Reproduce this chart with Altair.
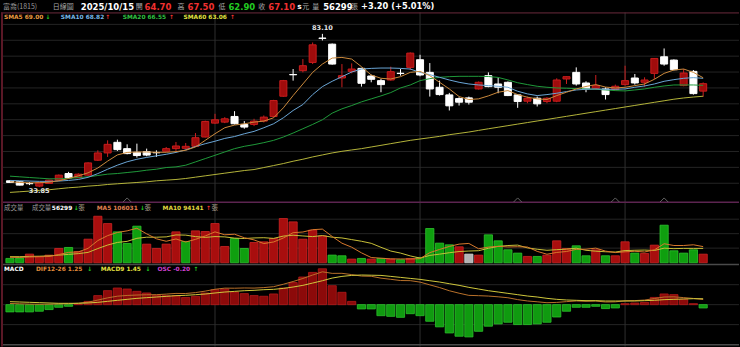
import altair as alt
import pandas as pd
import numpy as np

# ---------------- data ----------------
opens = [35.88,35.56,35.00,34.17,35.02,36.09,38.22,36.84,37.69,42.49,
 44.83,48.24,46.22,45.04,45.26,44.94,45.36,46.22,46.32,46.96,
 49.95,54.42,54.74,56.56,54.00,54.00,55.07,56.56,63.06,70.05,
 71.27,73.93,81.75,79.80,68.92,71.05,72.01,69.56,68.07,68.28,
 70.45,72.33,74.79,70.73,65.94,63.49,62.31,62.53,65.40,69.67,
 67.00,67.54,63.49,61.46,62.42,61.35,61.46,68.60,70.73,67.32,
 65.62,65.40,65.19,66.79,68.92,67.54,70.41,75.74,74.68,66.47,
 71.05,64.70]
highs = [36.00,35.70,35.50,35.40,36.20,37.90,38.75,38.30,41.80,45.68,
 48.88,49.10,47.60,47.82,46.22,45.68,46.75,48.35,48.03,51.23,
 55.20,57.41,56.34,58.26,55.07,55.81,56.88,61.90,68.30,71.80,
 75.00,80.33,83.10,80.00,73.40,73.61,72.20,69.99,68.60,72.55,
 71.80,77.13,76.38,73.72,68.07,64.13,62.74,62.95,67.80,70.73,
 69.14,67.80,63.60,62.95,62.95,62.74,68.82,69.40,72.33,67.86,
 69.88,65.94,66.79,72.87,70.20,69.14,75.30,78.41,74.90,71.80,
 71.48,67.50]
lows = [35.25,34.40,34.50,33.85,34.90,36.00,36.70,36.70,37.50,42.27,
 43.55,45.47,44.40,43.34,43.77,43.55,45.15,45.47,45.90,46.75,
 49.80,54.21,54.42,54.00,52.61,53.47,54.64,56.30,62.90,68.07,
 70.73,73.40,81.00,73.20,65.94,70.41,66.15,67.54,64.34,68.07,
 69.67,71.48,69.46,62.95,63.27,58.48,60.07,60.39,65.20,65.94,
 64.02,63.10,59.33,60.82,59.76,60.82,61.14,67.00,66.47,64.34,
 65.08,62.00,64.87,66.47,66.79,66.15,68.60,72.87,71.40,66.26,
 63.59,62.90]
closes = [35.34,34.49,34.95,35.34,36.09,37.69,36.84,38.01,41.63,44.83,
 47.60,45.90,44.62,44.00,44.15,44.90,46.22,47.07,46.96,49.73,
 54.96,55.49,55.81,54.21,53.15,55.07,56.34,61.67,68.07,69.95,
 72.87,79.58,81.65,73.40,69.67,71.80,67.22,68.50,66.79,70.95,
 70.35,76.92,69.88,65.40,63.59,59.97,61.14,61.14,67.54,66.15,
 65.94,63.27,61.35,62.42,60.61,62.42,68.28,69.35,67.00,65.40,
 66.47,63.59,66.26,68.07,67.32,68.28,75.21,73.40,71.59,70.52,
 63.90,67.10]

sma5 = [35.56,35.34,35.24,35.24,35.45,35.88,36.62,37.48,38.44,40.00,
 42.20,44.20,45.00,45.15,45.15,45.04,45.04,45.26,45.68,46.75,
 48.88,51.01,52.93,53.79,54.21,54.74,55.07,56.13,59.33,63.27,
 67.00,70.73,73.40,75.32,75.53,75.00,72.55,69.88,68.82,68.60,
 69.35,70.73,71.05,69.67,67.54,65.40,62.95,62.00,62.21,63.17,
 64.34,64.87,63.59,62.74,62.21,62.00,63.27,64.34,65.40,66.20,
 66.80,66.00,65.72,65.94,66.47,67.00,68.50,70.41,71.48,71.80,
 70.73,69.00]
sma10 = [36.00,35.90,35.80,35.70,35.70,35.80,36.00,36.30,37.00,38.20,
 39.60,40.90,42.00,42.80,43.40,43.90,44.40,45.00,45.80,46.90,
 47.80,48.60,49.50,50.10,51.00,51.76,52.93,54.21,56.13,58.48,
 60.39,63.59,66.15,67.86,69.35,70.84,71.80,72.01,72.12,72.12,
 72.01,71.80,70.73,69.99,69.14,68.28,67.54,67.00,66.68,66.47,
 66.26,65.94,64.66,63.81,63.27,63.59,64.02,64.55,65.08,65.30,
 65.40,65.30,65.30,65.40,65.94,66.36,67.00,67.86,68.39,68.82,
 69.03,68.82]
sma20 = [37.37,37.16,36.94,36.73,36.52,36.52,36.62,36.94,37.16,37.58,
 38.01,38.22,38.54,38.86,39.29,39.61,40.14,40.35,40.89,41.95,
 43.02,44.08,45.15,46.22,46.96,47.50,48.14,48.88,49.95,51.23,
 52.61,54.00,55.49,57.62,59.01,60.07,61.25,62.21,63.17,64.23,
 65.72,66.68,68.07,68.71,69.14,69.35,69.46,69.46,69.46,69.40,
 69.10,68.30,67.40,66.80,66.26,65.94,65.72,65.62,65.51,65.40,
 65.30,65.08,64.87,64.77,65.08,65.40,65.94,66.36,66.68,66.68,
 66.68,66.55]
sma60 = [32.15,32.36,32.57,32.79,33.00,33.32,33.64,33.85,34.17,34.38,
 34.70,34.92,35.13,35.34,35.56,35.88,36.09,36.30,36.62,37.05,
 37.48,37.90,38.33,38.75,39.18,39.50,40.14,40.78,41.42,42.17,
 42.81,43.55,44.19,44.83,45.36,45.79,46.22,46.75,47.28,47.82,
 48.35,48.88,49.31,49.73,50.16,50.69,51.12,51.55,52.08,52.60,
 53.10,53.60,54.10,54.60,55.10,55.60,56.10,56.60,57.10,57.60,
 58.10,58.60,59.10,59.60,60.10,60.60,61.10,61.60,62.10,62.50,
 62.80,63.06]

volumes = [28400,30900,56800,39200,50100,93800,100400,74200,154900,305300,
 257200,202800,126600,240100,122200,93800,122400,202900,139700,209300,
 205100,257500,106900,159300,93700,133100,137400,159200,290300,268400,
 155000,213800,176700,50200,45800,24000,28400,24100,28300,24000,
 19600,28200,34900,224700,128700,117800,104800,56700,50200,183300,
 144000,85100,63300,41500,41400,50200,144000,93800,111300,45800,
 85100,45900,45800,137500,63300,61100,115600,246600,78600,63300,
 85100,56299]
# r = up day, g = down day, s = unchanged
vol_dir = ("ggrrrrgrrr" "rgggrrrrgr" "rrrggrrrrr" "rrrggrgrgr" "grggggrsrg"
           "gggrgrrrgg" "rgrrgrrggg" "gr")
vol_ma5 = [36000,35000,38000,40000,41000,54200,68000,71400,94600,145600,
 178200,198800,209400,226400,189800,157200,141000,156200,136200,153600,
 175800,202800,183600,187400,164400,150000,126000,136400,162600,197400,
 201800,217200,220800,172800,128400,102200,65000,34400,30000,25600,
 24800,24800,27000,66400,87400,107000,122400,126800,91800,102600,
 107800,103800,105000,103200,74800,56000,67800,74000,88000,89000,
 96000,76400,66800,72000,75400,70600,84600,124800,113200,113200,
 118000,106031]
vol_ma10 = [40000,40000,42000,43000,45000,50000,55000,60000,68000,93300,
 116200,133400,140400,160500,167700,167700,169900,182800,181300,171700,
 166500,171900,169900,161800,159000,162900,164400,160000,175000,180900,
 175900,171600,178600,167700,162900,152000,141100,127600,101400,77000,
 63500,44900,30700,48200,56500,65900,73600,76900,79100,95000,
 107400,113100,115900,97500,88700,81900,85800,89500,95600,81900,
 76000,72100,70400,80000,82200,83300,80500,95800,92600,94300,
 94300,94141]

dif = [0.29,0.21,0.13,0.09,0.11,0.17,0.23,0.35,0.61,1.12,
 1.66,2.07,2.25,2.35,2.42,2.44,2.58,2.75,2.72,2.95,
 3.31,3.76,4.04,4.02,4.08,4.05,4.17,4.39,4.99,5.66,
 6.40,7.24,8.03,7.65,7.66,7.35,6.99,6.94,6.48,6.20,
 5.90,5.87,5.51,4.84,4.18,3.40,2.80,2.27,2.20,2.10,
 1.92,1.69,1.23,0.90,0.70,0.47,0.55,0.74,0.90,0.82,
 0.88,0.65,0.69,0.95,0.99,1.12,1.50,1.87,1.91,1.72,
 1.52,1.25]
macd9 = [0.73,0.65,0.57,0.49,0.41,0.33,0.33,0.33,0.41,0.57,
 0.81,1.06,1.30,1.54,1.71,1.87,2.03,2.20,2.28,2.44,
 2.60,2.85,3.09,3.25,3.41,3.50,3.66,3.74,3.98,4.31,
 4.72,5.28,5.85,6.50,6.91,7.15,7.25,7.20,7.15,6.91,
 6.67,6.42,6.18,5.85,5.53,5.12,4.72,4.23,3.82,3.41,
 3.09,2.76,2.44,2.11,1.87,1.54,1.30,1.14,1.06,0.98,
 0.98,0.89,0.89,0.89,0.89,0.98,1.06,1.22,1.30,1.38,
 1.46,1.45]
osc = [-0.44,-0.44,-0.44,-0.40,-0.30,-0.16,-0.10,0.02,0.20,0.55,
 0.85,1.01,0.95,0.81,0.71,0.57,0.55,0.55,0.44,0.51,
 0.71,0.91,0.95,0.77,0.67,0.55,0.51,0.65,1.01,1.35,
 1.68,1.96,2.18,1.15,0.75,0.20,-0.26,-0.26,-0.67,-0.71,
 -0.77,-0.55,-0.67,-1.01,-1.35,-1.72,-1.92,-1.96,-1.62,-1.31,
 -1.17,-1.07,-1.21,-1.21,-1.17,-1.07,-0.75,-0.40,-0.16,-0.16,
 -0.10,-0.24,-0.20,0.06,0.10,0.14,0.44,0.65,0.61,0.34,
 0.06,-0.20]
event_idx = [12, 52, 62, 67]
month_starts = [21, 42, 63]

n = len(closes)
for arr in (opens, highs, lows, sma5, sma10, sma20, sma60, volumes, vol_dir,
            vol_ma5, vol_ma10, dif, macd9, osc):
    assert len(arr) == n, len(arr)

# ---------------- styling ----------------
LAT = "DejaVu Sans"
CJK = "Noto Sans CJK TC"
BG = "#000000"
GRID = "#242424"
VGRID = "#2e2e2e"
RED_TXT = "#f03030"
GRN_TXT = "#22cc22"
GREY_TXT = "#a8a8a8"
W = 740
H_HEAD, H_PRICE, H_VOL, H_MACD = 12, 191, 61, 83
SMALL = 5.9

df = pd.DataFrame({
    "i": np.arange(n), "open": opens, "high": highs, "low": lows, "close": closes,
    "vol": volumes, "dir": list(vol_dir), "osc": osc,
})
up = df["close"] > df["open"]
df["cfill"] = np.where(up, "#a00c0c", "#ffffff")
df["cstroke"] = np.where(up, "#c81d1d", "#ffffff")
df["wick"] = np.where(up, "#cc2020", "#ffffff")
df["vfill"] = df["dir"].map({"r": "#a80e0e", "g": "#0f9f0f", "s": "#b4b4b4"})
df["vstroke"] = df["dir"].map({"r": "#cc2424", "g": "#2ec42e", "s": "#d4d4d4"})
df["hfill"] = np.where(df["osc"] > 0, "#8c0a0a", "#109a10")
df["hstroke"] = np.where(df["osc"] > 0, "#b41a1a", "#2cc02c")

xs = alt.Scale(domain=[-0.92, 74.67], nice=False, zero=False)
DUMMY = pd.DataFrame({"d": [0]})


def label(text, x, y, color, size=SMALL, bold=True, font=LAT):
    return alt.Chart(DUMMY).mark_text(
        text=text, align="left", baseline="middle", color=color, fontSize=size,
        fontWeight="bold" if bold else "normal", font=font,
    ).encode(x=alt.value(x), y=alt.value(y))


def hrule(y, color, w=1.0):
    return alt.Chart(DUMMY).mark_rule(color=color, strokeWidth=w).encode(
        x=alt.value(0), x2=alt.value(W), y=alt.value(y))


def left_border(h):
    return alt.Chart(DUMMY).mark_rule(color="#5a1826", strokeWidth=2).encode(
        x=alt.value(1), y=alt.value(0), y2=alt.value(h))


def vgrid(h, top=0):
    return alt.Chart(pd.DataFrame({"m": month_starts})).mark_rule(
        color=VGRID, strokeWidth=1).encode(
        x=alt.X("m:Q", scale=xs, axis=None), y=alt.value(top), y2=alt.value(h))


def hgrid(values, scale):
    return alt.Chart(pd.DataFrame({"g": values})).mark_rule(
        color=GRID, strokeWidth=1).encode(
        y=alt.Y("g:Q", scale=scale, axis=None), x=alt.value(0), x2=alt.value(W))


# ---------------- header ----------------
hy = 6.5
header = alt.layer(
    label("富喬(1815)", 2, hy, "#9a9a9a", 7, False, CJK),
    label("日線圖", 52, hy, GREY_TXT, 7, False, CJK),
    label("2025/10/15", 80, hy, "#ffffff", 8.5),
    label("開", 135, hy, GREY_TXT, 7, False, CJK),
    label("64.70", 144, hy, RED_TXT, 8.5),
    label("高", 177, hy, GREY_TXT, 7, False, CJK),
    label("67.50", 187, hy, RED_TXT, 8.5),
    label("低", 218, hy, GREY_TXT, 7, False, CJK),
    label("62.90", 228, hy, GRN_TXT, 8.5),
    label("收", 258, hy, GREY_TXT, 7, False, CJK),
    label("67.10", 268, hy, RED_TXT, 8.5),
    label("s", 297, hy, "#ffffff", 7.5),
    label("元", 302, hy, GREY_TXT, 7, False, CJK),
    label("量", 312, hy, GREY_TXT, 7, False, CJK),
    label("56299", 323, hy, "#ffffff", 8.5),
    label("張", 351, hy, GREY_TXT, 7, False, CJK),
    label("+3.20 (+5.01%)", 361, hy, "#ffffff", 8.3),
).properties(width=W, height=H_HEAD)

# ---------------- price panel ----------------
ys_price = alt.Scale(domain=[28.77, 89.99], nice=False, zero=False)
grid_top = 86.15
price_grid = [round(grid_top - 5.106 * k, 3) for k in range(11)]

wicks = alt.Chart(df).mark_rule(strokeWidth=1).encode(
    x=alt.X("i:Q", scale=xs, axis=None),
    y=alt.Y("low:Q", scale=ys_price, axis=None),
    y2="high:Q",
    stroke=alt.Stroke("wick:N", scale=None),
)
bodies = alt.Chart(df).transform_calculate(
    x0="datum.i - 0.36", x1="datum.i + 0.36"
).mark_rect(strokeWidth=1).encode(
    x=alt.X("x0:Q", scale=xs, axis=None), x2="x1:Q",
    y=alt.Y("open:Q", scale=ys_price, axis=None), y2="close:Q",
    fill=alt.Fill("cfill:N", scale=None),
    stroke=alt.Stroke("cstroke:N", scale=None),
)

ma_df = pd.DataFrame({"i": np.arange(n), "sma5": sma5, "sma10": sma10,
                      "sma20": sma20, "sma60": sma60})
ma_layers = []
for col, colr in [("sma60", "#b4b43a"), ("sma20", "#1f9a3a"),
                  ("sma10", "#6aa6d6"), ("sma5", "#cc8a3c")]:
    ma_layers.append(alt.Chart(ma_df).mark_line(color=colr, strokeWidth=1).encode(
        x=alt.X("i:Q", scale=xs, axis=None),
        y=alt.Y(f"{col}:Q", scale=ys_price, axis=None)))

hi_row = df.loc[[df["high"].idxmax()]].assign(t=lambda d: d["high"].map(lambda v: f"{v:.2f}"))
lo_row = df.loc[[df["low"].idxmin()]].assign(t=lambda d: d["low"].map(lambda v: f"{v:.2f}"))
hi_lab = alt.Chart(hi_row).mark_text(color="#e6e6e6", fontSize=6.6, fontWeight="bold",
                                     font=LAT, dy=-6, baseline="middle").encode(
    x=alt.X("i:Q", scale=xs, axis=None), y=alt.Y("high:Q", scale=ys_price, axis=None),
    text="t:N")
lo_lab = alt.Chart(lo_row).mark_text(color="#e6e6e6", fontSize=6.6, fontWeight="bold",
                                     font=LAT, dy=4, baseline="middle").encode(
    x=alt.X("i:Q", scale=xs, axis=None), y=alt.Y("low:Q", scale=ys_price, axis=None),
    text="t:N")

events = alt.Chart(pd.DataFrame({"i": event_idx})).mark_point(
    shape="M -1 0.6 L 0 -0.4 L 1 0.6", filled=False, size=64,
    stroke="#8a8a8a", strokeWidth=1).encode(
    x=alt.X("i:Q", scale=xs, axis=None), y=alt.value(187.6))

ly = 4.4
price = alt.layer(
    hgrid(price_grid, ys_price), vgrid(H_PRICE),
    wicks, bodies, *ma_layers, hi_lab, lo_lab,
    hrule(0.5, "#6b2a3c", 1), hrule(190.4, "#5c2450", 1.6), events,
    left_border(H_PRICE),
    label("SMA5 69.00", 3, ly, "#e89a40"), label("↓", 44.5, ly, GRN_TXT),
    label("SMA10 68.82", 60, ly, "#78b8e8"), label("↑", 104.5, ly, RED_TXT),
    label("SMA20 66.55", 122, ly, "#30c040"), label("↑", 168.5, ly, RED_TXT),
    label("SMA60 63.06", 183, ly, "#e0e040"), label("↑", 229.5, ly, RED_TXT),
).properties(width=W, height=H_PRICE)

# ---------------- volume panel ----------------
ys_vol = alt.Scale(domain=[-6546, 392760], nice=False, zero=False)
vbars = alt.Chart(df).transform_calculate(
    x0="datum.i - 0.42", x1="datum.i + 0.42"
).mark_rect(strokeWidth=0.8).encode(
    x=alt.X("x0:Q", scale=xs, axis=None), x2="x1:Q",
    y=alt.Y("vol:Q", scale=ys_vol, axis=None), y2=alt.datum(0),
    fill=alt.Fill("vfill:N", scale=None),
    stroke=alt.Stroke("vstroke:N", scale=None),
)
vma_df = pd.DataFrame({"i": np.arange(n), "m5": vol_ma5, "m10": vol_ma10})
vma_layers = [
    alt.Chart(vma_df).mark_line(color=c, strokeWidth=1).encode(
        x=alt.X("i:Q", scale=xs, axis=None),
        y=alt.Y(f"{col}:Q", scale=ys_vol, axis=None))
    for col, c in [("m10", "#c8c038"), ("m5", "#d8782c")]
]
vy = 5.5
vol = alt.layer(
    hgrid([96000, 191000, 286000], ys_vol), vgrid(H_VOL),
    vbars, *vma_layers, left_border(H_VOL),
    label("成交量", 3, vy, "#9a9a9a", 6.5, False, CJK),
    label("成交量", 31, vy, "#9a9a9a", 6.5, False, CJK),
    label("56299", 51, vy, "#ffffff"), label("↓", 73, vy, GRN_TXT),
    label("張", 77.5, vy, "#b0a090", 6.5, False, CJK),
    label("MA5 106031", 96, vy, "#e08050"), label("↓", 139.5, vy, GRN_TXT),
    label("張", 144, vy, "#b0a090", 6.5, False, CJK),
    label("MA10 94141", 162, vy, "#e0d840"), label("↑", 205.5, vy, RED_TXT),
    label("張", 211, vy, "#b0a090", 6.5, False, CJK),
).properties(width=W, height=H_VOL)

# ---------------- MACD panel ----------------
ys_hist = alt.Scale(domain=[-2.545, 2.485], nice=False, zero=False)
ys_line = alt.Scale(domain=[-10.24, 10.0], nice=False, zero=False)
hist = alt.Chart(df).transform_calculate(
    x0="datum.i - 0.42", x1="datum.i + 0.42"
).mark_rect(strokeWidth=0.8).encode(
    x=alt.X("x0:Q", scale=xs, axis=None), x2="x1:Q",
    y=alt.Y("osc:Q", scale=ys_hist, axis=None), y2=alt.datum(0),
    fill=alt.Fill("hfill:N", scale=None),
    stroke=alt.Stroke("hstroke:N", scale=None),
)
mline_df = pd.DataFrame({"i": np.arange(n), "dif": dif, "macd9": macd9})
dif_line = alt.Chart(mline_df).mark_line(color="#b8702a", strokeWidth=1).encode(
    x=alt.X("i:Q", scale=xs, axis=None), y=alt.Y("dif:Q", scale=ys_line, axis=None))
sig_line = alt.Chart(mline_df).mark_line(color="#d0c83c", strokeWidth=1).encode(
    x=alt.X("i:Q", scale=xs, axis=None), y=alt.Y("macd9:Q", scale=ys_line, axis=None))
my = 5.2
macd = alt.layer(
    hgrid([-4.88, 0, 4.88], ys_line), vgrid(H_MACD),
    hist, dif_line, sig_line,
    hrule(0.7, "#4a4a4a", 1.5), hrule(81.3, "#4a4a4a", 1.5), left_border(H_MACD),
    label("MACD", 3, my, "#ffffff"),
    label("DIF12-26 1.25", 35, my, "#e08a3a"), label("↓", 86.5, my, GRN_TXT),
    label("MACD9 1.45", 100, my, "#e0e040"), label("↓", 145, my, GRN_TXT),
    label("OSC -0.20", 157, my, "#d040d0"), label("↑", 193, my, GRN_TXT),
).resolve_scale(y="independent").properties(width=W, height=H_MACD)

chart = alt.vconcat(header, price, vol, macd, spacing=0, bounds="flush").properties(
    padding=0, background=BG
).configure_view(stroke=None)

chart.save("out.html", embed_options={"renderer": "svg", "actions": False})
